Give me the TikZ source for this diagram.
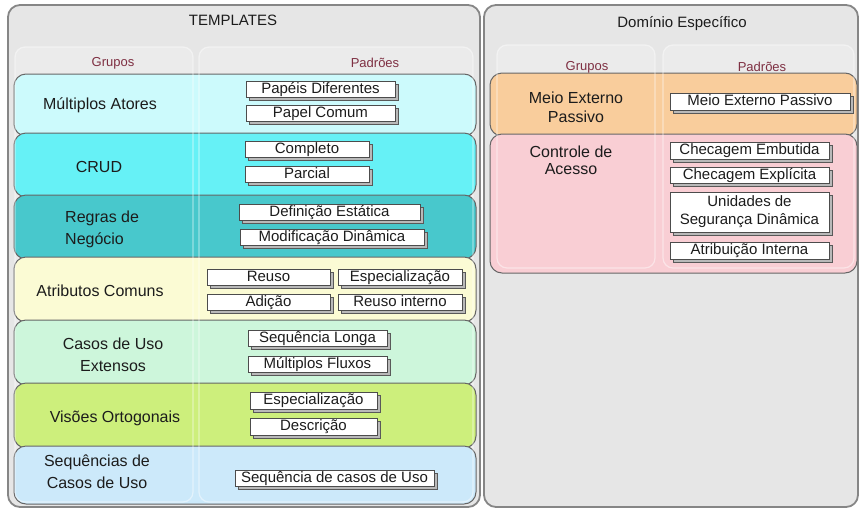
\documentclass[tikz,border=0pt]{standalone}
\usepackage{fontspec}
\setmainfont{Liberation Sans}
\usetikzlibrary{shadows}

\definecolor{panelbg}{HTML}{E6E6E6}
\definecolor{colbg}{HTML}{EBEBEB}
\definecolor{panelline}{HTML}{868686}
\definecolor{rowline}{HTML}{666666}
\definecolor{headred}{HTML}{7E2F42}
\definecolor{txt}{HTML}{1C1C1C}
\definecolor{rowA}{HTML}{CCFAFC}
\definecolor{rowB}{HTML}{66F1F6}
\definecolor{rowC}{HTML}{48C8CC}
\definecolor{rowD}{HTML}{FBFBD4}
\definecolor{rowE}{HTML}{CDF6DB}
\definecolor{rowF}{HTML}{CDEF7C}
\definecolor{rowG}{HTML}{CCE9FA}
\definecolor{rowH}{HTML}{F9CD9C}
\definecolor{rowI}{HTML}{F9CED4}

\tikzset{
  panel/.style={rounded corners=12pt, fill=panelbg, draw=panelline, line width=1.8pt},
  column/.style={rounded corners=10pt, fill=colbg},
  colrim/.style={rounded corners=10pt, draw=white, draw opacity=0.45, line width=1.2pt},
  grouprow/.style={rounded corners=12pt, draw=rowline, line width=1pt},
  title/.style={font=\fontsize{15}{17}\selectfont, text=txt, inner sep=0pt},
  colhead/.style={font=\fontsize{13}{15}\selectfont, text=headred, inner sep=0pt},
  grp/.style={font=\fontsize{16}{22}\selectfont, text=txt, inner sep=0pt},
  btnbase/.style={draw=black!70, line width=0.6pt, fill=white, inner sep=0pt,
    font=\fontsize{15}{18}\selectfont, text=txt,
    general shadow={shadow xshift=3pt, shadow yshift=-3pt, fill=gray!55, draw=black!65, line width=0.5pt}},
  btn/.style={btnbase, text height=11pt, text depth=3pt},
}

\begin{document}
\begin{tikzpicture}[x=1pt, y=-1pt]
\useasboundingbox (0,0) rectangle (859,512);
\fill[white] (0,0) rectangle (859,512);

% outer panels
\draw[panel] (8,5) rectangle (480,507);
\draw[panel] (484,5) rectangle (858,507);

% column backgrounds
\fill[column] (15,47) rectangle (193,502);
\fill[column] (199,47) rectangle (473,502);
\fill[column] (497,45) rectangle (655,268);
\fill[column] (663,45) rectangle (854,268);

% group rows, left panel
\draw[grouprow, fill=rowA] (14,74) rectangle (476,136);
\draw[grouprow, fill=rowB] (14,133) rectangle (476,197);
\draw[grouprow, fill=rowC] (14,195) rectangle (476,259);
\draw[grouprow, fill=rowD] (14,257) rectangle (476,322);
\draw[grouprow, fill=rowE] (14,320) rectangle (476,385);
\draw[grouprow, fill=rowF] (14,383) rectangle (476,448);
\draw[grouprow, fill=rowG] (14,446) rectangle (476,504);

% group rows, right panel
\draw[grouprow, fill=rowH] (490,73) rectangle (857,136);
\draw[grouprow, fill=rowI] (490,134) rectangle (857,273);

% column rims over the rows
\draw[colrim] (15,47) rectangle (193,502);
\draw[colrim] (199,47) rectangle (473,502);
\draw[colrim] (497,45) rectangle (655,268);
\draw[colrim] (663,45) rectangle (854,268);

% headings
\node[title] (tpl) at (233,20) {TEMPLATES};
\node[title] (dom) at (682,24) {Domínio Específico};
\node[colhead] (grpL) at (113,63) {Grupos};
\node[colhead] (padL) at (375,63) {Padrões};
\node[colhead] (grpR) at (587,67) {Grupos};
\node[colhead] (padR) at (762,67) {Padrões};

% group labels
\node[grp] (g1) at (100,105) {Múltiplos Atores};
\node[grp] (g2) at (99,167) {CRUD};
\node[grp, align=left, anchor=west] (g3) at (65,229) {Regras de\\Negócio};
\node[grp] (g4) at (100,291) {Atributos Comuns};
\node[grp, align=center] (g5) at (113,355) {Casos de Uso\\Extensos};
\node[grp] (g6) at (115,418) {Visões Ortogonais};
\node[grp, align=center] (g7) at (97,472) {Sequências de\\Casos de Uso};
\node[grp, align=center, font=\fontsize{16}{19}\selectfont] (g8) at (576,107) {Meio Externo\\Passivo};
\node[grp, align=center, font=\fontsize{16}{17}\selectfont] (g9) at (571,160) {Controle de\\Acesso};

% pattern buttons
\node[btn, minimum width=149pt, minimum height=16pt] (p1) at (320.5,89.5) {Papéis Diferentes};
\node[btn, minimum width=149pt, minimum height=16pt] (p2) at (320.5,113.5) {Papel Comum};
\node[btn, minimum width=124pt, minimum height=16pt] (p3) at (307,149.5) {Completo};
\node[btn, minimum width=124pt, minimum height=16pt] (p4) at (307,174.5) {Parcial};
\node[btn, minimum width=181pt, minimum height=16pt] (p5) at (329.5,212.5) {Definição Estática};
\node[btn, minimum width=184pt, minimum height=16pt] (p6) at (332,237.5) {Modificação Dinâmica};
\node[btn, minimum width=123pt, minimum height=16pt] (p7) at (268.5,277.5) {Reuso};
\node[btn, minimum width=124pt, minimum height=16pt] (p8) at (400,277.5) {Especialização};
\node[btn, minimum width=123pt, minimum height=16pt] (p9) at (268.5,302.5) {Adição};
\node[btn, minimum width=124pt, minimum height=16pt] (p10) at (400,302.5) {Reuso interno};
\node[btn, minimum width=139pt, minimum height=16pt] (p11) at (317.5,338.5) {Sequência Longa};
\node[btn, minimum width=139pt, minimum height=16pt] (p12) at (317.5,364.5) {Múltiplos Fluxos};
\node[btn, minimum width=127pt, minimum height=17pt] (p13) at (313.5,400.5) {Especialização};
\node[btn, minimum width=127pt, minimum height=17pt] (p14) at (313.5,426.5) {Descrição};
\node[btn, minimum width=199pt, minimum height=16pt] (p15) at (334.5,478) {Sequência de casos de Uso};
\node[btn, minimum width=180pt, minimum height=17pt] (p16) at (760,101.5) {Meio Externo Passivo};
\node[btn, minimum width=159pt, minimum height=17pt] (p17) at (749.5,150.5) {Checagem Embutida};
\node[btn, minimum width=159pt, minimum height=16pt] (p18) at (749.5,175) {Checagem Explícita};
\node[btnbase, minimum width=159pt, minimum height=40pt, align=center] (p19) at (749.5,212) {Unidades de\\Segurança Dinâmica};
\node[btn, minimum width=159pt, minimum height=17pt] (p20) at (749.5,250.5) {Atribuição Interna};
\end{tikzpicture}
\end{document}
